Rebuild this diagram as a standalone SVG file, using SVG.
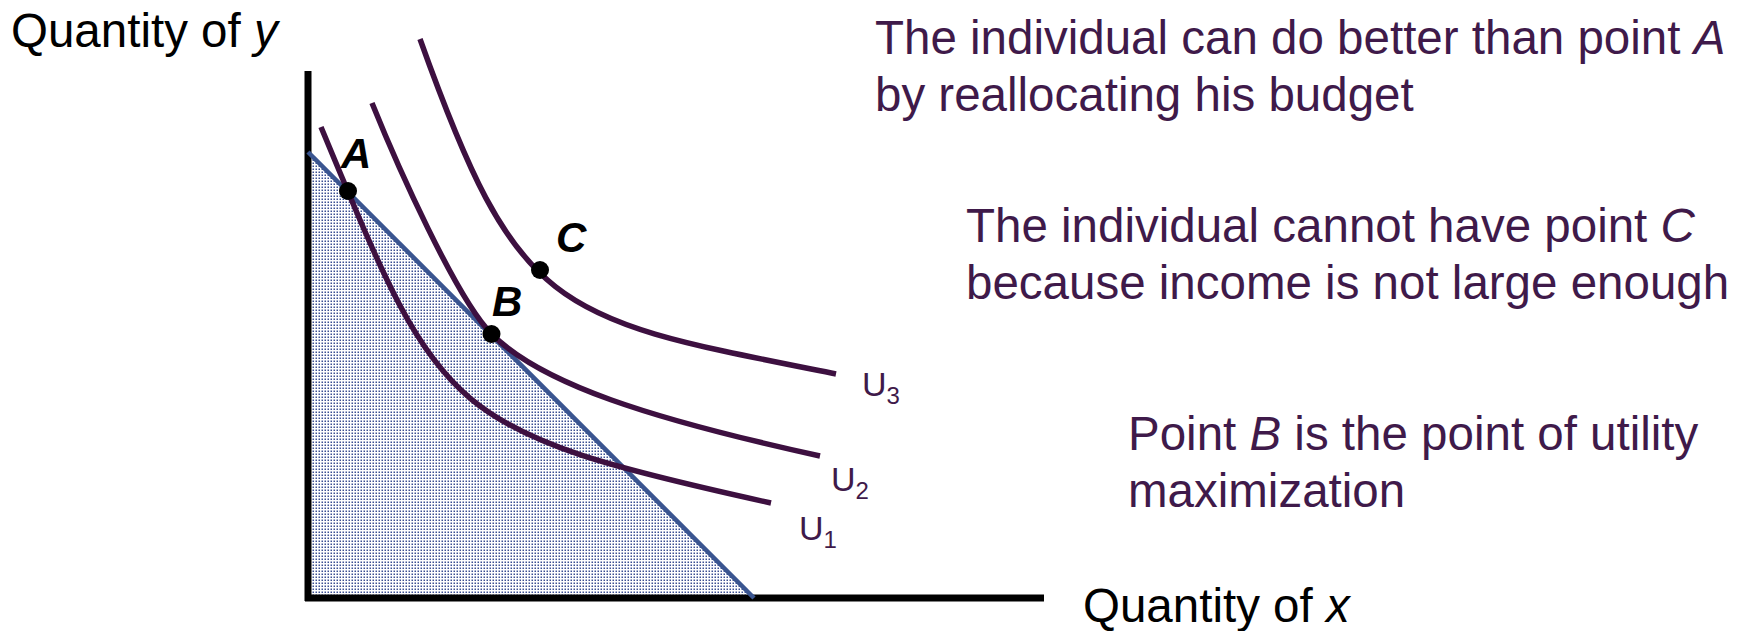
<svg xmlns="http://www.w3.org/2000/svg" width="1752" height="631" viewBox="0 0 1752 631">
<style>
text{font-family:"Liberation Sans",Arial,sans-serif}
.lbl{font-size:47.5px}
.ax{fill:#000}
.note{fill:#3f1a4a}
.pt{font-size:42px;font-weight:bold;font-style:italic;fill:#000}
.u{font-size:34px;fill:#3f1a4a}
.sub{font-size:24px}
.curve{fill:none;stroke:#3d1040;stroke-width:5.5}
.axis{stroke:#000;stroke-width:7;fill:none}
.dot{fill:#000}
.it{font-style:italic}
</style>
<defs>
<pattern id="dots" width="3" height="3" patternUnits="userSpaceOnUse">
<rect width="3" height="3" fill="#fff"/>
<rect x="0.5" y="0.5" width="1.5" height="1.5" fill="#3b4f93"/>
</pattern>
</defs>

<g id="feasible-region">
<polygon points="308,152 754,598 308,598" fill="url(#dots)"/>
</g>

<g id="axes">
<line class="axis" x1="308" y1="71" x2="308" y2="601"/>
<line class="axis" x1="305" y1="598" x2="1044" y2="598"/>
</g>

<g id="budget-line">
<line x1="308" y1="152" x2="754" y2="598" stroke="#3a5590" stroke-width="4.5"/>
</g>

<g id="connectors">
<path id="U1" class="curve" d="M321,127 C441,415 441,430.4 771,503"/>
<path id="U2" class="curve" d="M372,103 C397,165 456.6,299 491.6,334 C541.6,384 650,418.6 820,456"/>
<path id="U3" class="curve" d="M420,39 C520,319 556,318 836,374"/>
</g>

<g id="point-A">
<circle class="dot" cx="348" cy="191" r="9"/>
<text class="pt" x="341" y="168">A</text>
</g>
<g id="point-B">
<circle class="dot" cx="491.5" cy="334" r="9"/>
<text class="pt" x="492" y="316">B</text>
</g>
<g id="point-C">
<circle class="dot" cx="540" cy="270" r="9"/>
<text class="pt" x="556" y="252">C</text>
</g>

<g id="label-U1"><text class="u" x="799" y="540">U<tspan class="sub" dy="8">1</tspan></text></g>
<g id="label-U2"><text class="u" x="831" y="491">U<tspan class="sub" dy="8">2</tspan></text></g>
<g id="label-U3"><text class="u" x="862" y="396">U<tspan class="sub" dy="8">3</tspan></text></g>

<g id="y-axis-label">
<text class="lbl ax" x="11" y="47">Quantity of <tspan class="it">y</tspan></text>
</g>
<g id="x-axis-label">
<text class="lbl ax" x="1083" y="622">Quantity of <tspan class="it">x</tspan></text>
</g>

<g id="note-A">
<text class="lbl note" x="875" y="54">The individual can do better than point <tspan class="it">A</tspan></text>
<text class="lbl note" x="875" y="111">by reallocating his budget</text>
</g>
<g id="note-C">
<text class="lbl note" x="966" y="242">The individual cannot have point <tspan class="it">C</tspan></text>
<text class="lbl note" x="966" y="299">because income is not large enough</text>
</g>
<g id="note-B">
<text class="lbl note" x="1128" y="450">Point <tspan class="it">B</tspan> is the point of utility</text>
<text class="lbl note" x="1128" y="507">maximization</text>
</g>
</svg>
